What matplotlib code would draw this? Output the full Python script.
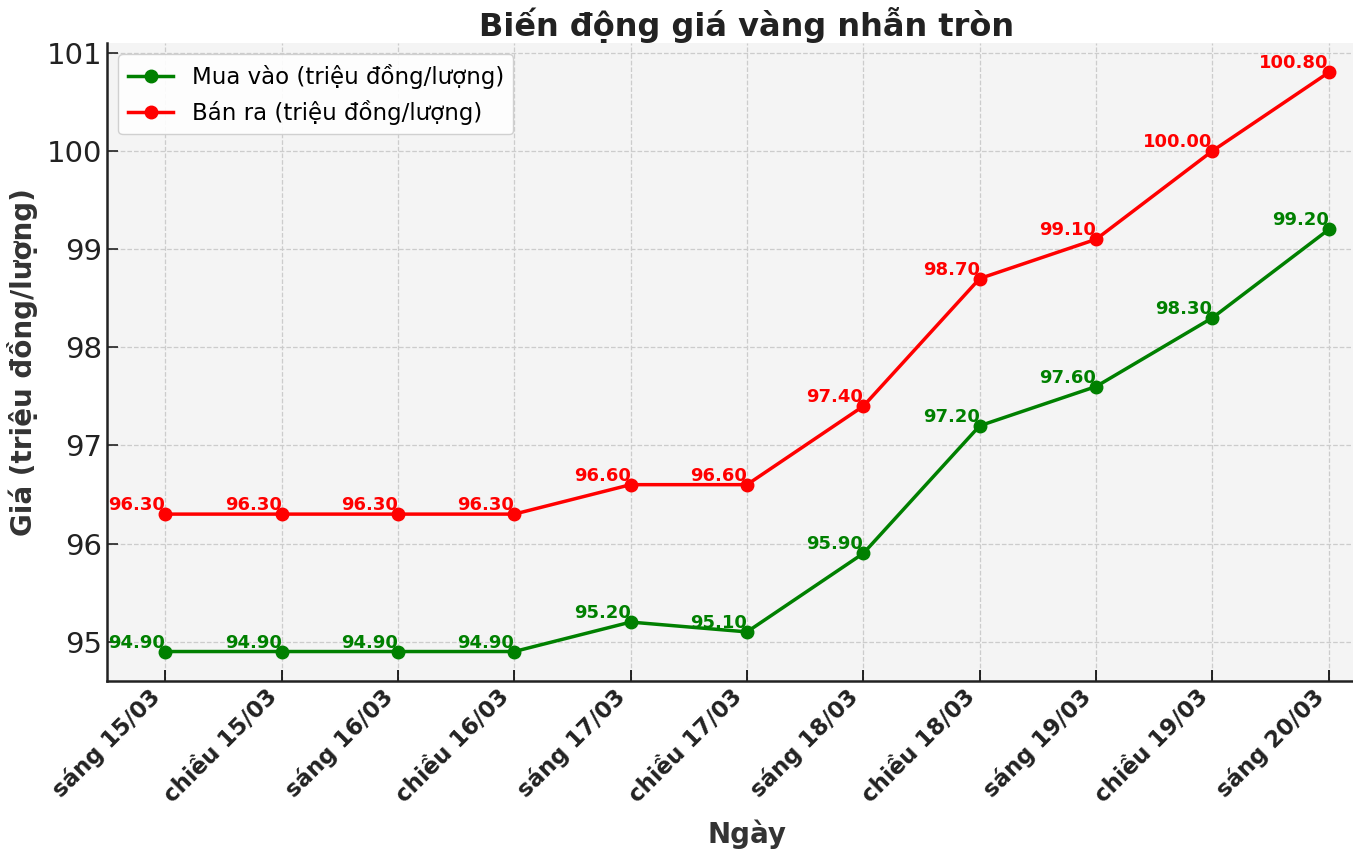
import matplotlib.pyplot as plt

# du lieu gia vang nhan tron
ngay = ['sáng 15/03', 'chiều 15/03', 'sáng 16/03', 'chiều 16/03', 'sáng 17/03',
        'chiều 17/03', 'sáng 18/03', 'chiều 18/03', 'sáng 19/03', 'chiều 19/03', 'sáng 20/03']
mua_vao = [94.9, 94.9, 94.9, 94.9, 95.2, 95.1, 95.9, 97.2, 97.6, 98.3, 99.2]
ban_ra = [96.3, 96.3, 96.3, 96.3, 96.6, 96.6, 97.4, 98.7, 99.1, 100.0, 100.8]

plt.rcParams['font.family'] = ['DejaVu Sans']
fig = plt.figure(figsize=(13.53, 8.51), dpi=100)
# truc ben phai bi cat khoi anh goc
ax = fig.add_axes([0.0791, 0.1998, 0.946, 0.7497])
ax.set_facecolor('#f4f4f4')

x = list(range(len(ngay)))
ax.plot(x, mua_vao, color='green', marker='o', lw=2.5, ms=9, label='Mua vào (triệu đồng/lượng)')
ax.plot(x, ban_ra, color='red', marker='o', lw=2.5, ms=9, label='Bán ra (triệu đồng/lượng)')

for i in x:
    ax.text(i, mua_vao[i], '%.2f' % mua_vao[i], color='green', fontsize=13,
            fontweight='bold', ha='right', va='bottom')
    ax.text(i, ban_ra[i], '%.2f' % ban_ra[i], color='red', fontsize=13,
            fontweight='bold', ha='right', va='bottom')

ax.set_xlim(-0.5, 10.5)
ax.set_ylim(94.6, 101.1)
ax.set_xticks(x)
ax.set_xticklabels(ngay, rotation=45, ha='right',
                   fontsize=16.5, fontweight='bold', color='#222222')
ax.tick_params(axis='x', direction='in', length=8, width=1.2, pad=3)
ax.tick_params(axis='y', direction='in', length=8, width=1.2, labelsize=21, colors='#222222')
ax.grid(True, ls='--', color='#cccccc', lw=0.9)

for s in ['left', 'bottom']:
    ax.spines[s].set_linewidth(1.8)
    ax.spines[s].set_color('#222222')
for s in ['top', 'right']:
    ax.spines[s].set_visible(False)

ax.set_title('Biến động giá vàng nhẫn tròn', fontsize=23, fontweight='bold', color='#222222', pad=5)
ax.set_xlabel('Ngày', fontsize=20, fontweight='bold', color='#333333', labelpad=9)
ax.set_ylabel('Giá (triệu đồng/lượng)', fontsize=20, fontweight='bold', color='#333333', labelpad=6)
ax.legend(loc='upper left', fontsize=16.5, framealpha=0.9, edgecolor='#cccccc')

fig.savefig('out.png', dpi=100)
